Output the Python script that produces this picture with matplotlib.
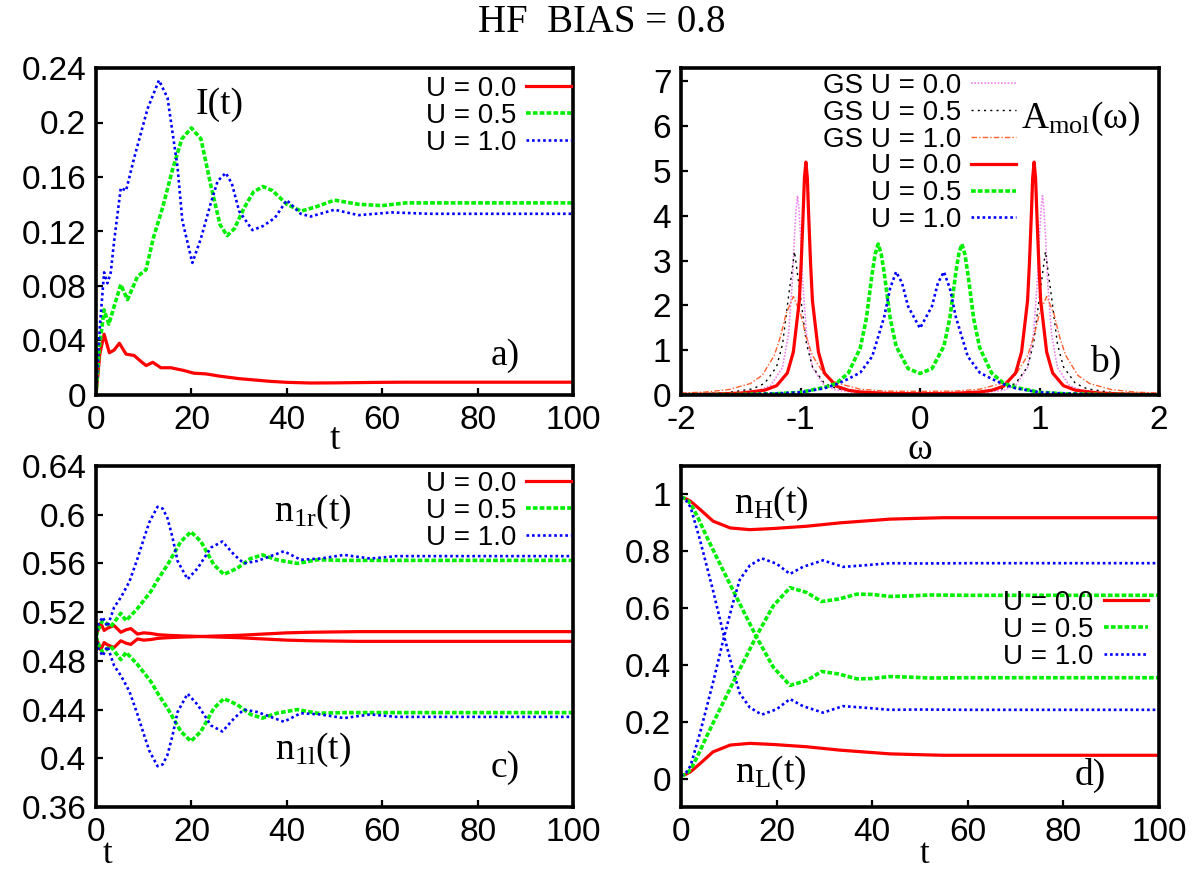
import matplotlib
matplotlib.use('Agg')
import matplotlib.pyplot as plt

# ---------------- data ----------------
# a) current I(t)
t_a_u00 = [0, 0.8, 1.7, 2.8, 3.8, 4.9, 6.3, 8.0, 9.3, 10.5, 11.9, 13.6, 15.7, 18.4, 20.5, 23, 26, 30,
           36.6, 40, 45, 50, 55, 60, 65, 70, 80, 90, 100]
I_u00 = [0, 0.03, 0.0446, 0.031, 0.033, 0.038, 0.030, 0.029, 0.025, 0.0216, 0.024, 0.020, 0.020, 0.018,
         0.016, 0.0155, 0.0138, 0.012, 0.010, 0.0093, 0.0088, 0.0089, 0.0091, 0.0093, 0.0094, 0.0094,
         0.0094, 0.0094, 0.0094]
t_a_u05 = [0, 0.7, 1.7, 2.7, 3.8, 5.2, 6.6, 8.7, 10.5, 12, 14, 16, 18, 20, 22, 24, 26, 27.5, 29, 31, 33,
           35, 37, 40, 43, 46, 50, 55, 60, 65, 70, 80, 90, 100]
I_u05 = [0, 0.035, 0.0625, 0.052, 0.065, 0.081, 0.070, 0.087, 0.092, 0.115, 0.138, 0.165, 0.188, 0.196,
         0.188, 0.155, 0.125, 0.117, 0.122, 0.137, 0.149, 0.153, 0.150, 0.140, 0.135, 0.138, 0.143,
         0.140, 0.139, 0.141, 0.141, 0.141, 0.141, 0.141]
t_a_u10 = [0, 0.8, 1.7, 2.4, 3.1, 3.8, 5.2, 6.3, 8, 10.8, 13.2, 15, 17.1, 18.1, 20.2, 22, 24, 25.5, 27.2,
           28.5, 30, 32.8, 35, 37.5, 40, 42.9, 45, 50, 55, 62, 70, 80, 90, 100]
I_u10 = [0, 0.05, 0.090, 0.082, 0.090, 0.113, 0.152, 0.150, 0.174, 0.210, 0.231, 0.218, 0.167, 0.128,
         0.097, 0.115, 0.140, 0.157, 0.163, 0.155, 0.135, 0.121, 0.124, 0.130, 0.143, 0.133, 0.131,
         0.136, 0.132, 0.134, 0.133, 0.133, 0.133, 0.133]

# b) spectral function A_mol(w)
w_gs00 = [-2, -1.7, -1.5, -1.35, -1.25, -1.15, -1.1, -1.07, -1.05, -1.037, -1.025, -1.013, -1.0, -0.98,
          -0.95, -0.9, -0.8, -0.7, -0.5, 0, 0.5, 0.7, 0.8, 0.9, 0.95, 0.98, 1.0, 1.013, 1.025, 1.037,
          1.05, 1.07, 1.1, 1.15, 1.25, 1.35, 1.5, 1.7, 2]
A_gs00 = [0.012, 0.024, 0.049, 0.103, 0.21, 0.615, 1.37, 2.46, 3.56, 4.15, 4.45, 4.15, 3.56, 2.46, 1.37,
          0.615, 0.21, 0.107, 0.045, 0.021, 0.045, 0.107, 0.21, 0.615, 1.37, 2.46, 3.56, 4.15, 4.45,
          4.15, 3.56, 2.46, 1.37, 0.615, 0.21, 0.103, 0.049, 0.024, 0.012]
w_gs05 = [-2, -1.8, -1.6, -1.4, -1.3, -1.2, -1.15, -1.1, -1.05, -1.0, -0.95, -0.9, -0.8, -0.7, -0.5, 0,
          0.5, 0.7, 0.8, 0.9, 0.95, 1.0, 1.05, 1.1, 1.15, 1.2, 1.3, 1.4, 1.6, 1.8, 2]
A_gs05 = [0.019, 0.031, 0.057, 0.137, 0.26, 0.63, 1.14, 2.2, 3.2, 2.2, 1.14, 0.63, 0.26, 0.145, 0.065,
          0.032, 0.065, 0.145, 0.26, 0.63, 1.14, 2.2, 3.2, 2.2, 1.14, 0.63, 0.26, 0.137, 0.057, 0.031,
          0.019]
w_gs10 = [-2, -1.8, -1.6, -1.42, -1.32, -1.22, -1.17, -1.12, -1.06, -1.0, -0.95, -0.9, -0.8, -0.7, -0.5,
          -0.3, 0, 0.3, 0.5, 0.7, 0.8, 0.9, 0.95, 1.0, 1.06, 1.12, 1.17, 1.22, 1.32, 1.42, 1.6, 1.8, 2]
A_gs10 = [0.042, 0.066, 0.121, 0.255, 0.44, 0.88, 1.28, 1.82, 2.2, 1.82, 1.28, 0.88, 0.45, 0.27, 0.13,
          0.088, 0.08, 0.088, 0.13, 0.27, 0.45, 0.88, 1.28, 1.82, 2.2, 1.82, 1.28, 0.88, 0.44, 0.255,
          0.121, 0.066, 0.042]
w_u00 = [-2, -1.7, -1.5, -1.3, -1.2, -1.11, -1.06, -1.01, -0.995, -0.98, -0.967, -0.955, -0.943, -0.93,
         -0.915, -0.9, -0.85, -0.8, -0.7, -0.6, -0.5, -0.3, 0, 0.3, 0.5, 0.6, 0.7, 0.8, 0.85, 0.9, 0.915,
         0.93, 0.943, 0.955, 0.967, 0.98, 0.995, 1.01, 1.06, 1.11, 1.2, 1.3, 1.5, 1.7, 2]
A_u00 = [0.012, 0.023, 0.043, 0.107, 0.208, 0.49, 0.96, 2.1, 2.9, 3.9, 4.85, 5.2, 4.85, 3.9, 2.9, 2.1,
         0.96, 0.49, 0.197, 0.106, 0.068, 0.038, 0.028, 0.038, 0.068, 0.106, 0.197, 0.49, 0.96, 2.1,
         2.9, 3.9, 4.85, 5.2, 4.85, 3.9, 2.9, 2.1, 0.96, 0.49, 0.208, 0.107, 0.043, 0.023, 0.012]
w_u05 = [-2, -1.5, -1.2, -1.0, -0.8, -0.7, -0.6, -0.5, -0.45, -0.4, -0.375, -0.35, -0.325, -0.3, -0.25,
         -0.2, -0.1, 0, 0.1, 0.2, 0.25, 0.3, 0.325, 0.35, 0.375, 0.4, 0.45, 0.5, 0.6, 0.7, 0.8, 1.0, 1.2,
         1.5, 2]
A_u05 = [0.004, 0.012, 0.03, 0.06, 0.17, 0.26, 0.49, 1.05, 1.69, 2.72, 3.15, 3.37, 3.15, 2.74, 1.72,
         1.09, 0.59, 0.48, 0.59, 1.09, 1.72, 2.74, 3.15, 3.37, 3.15, 2.72, 1.69, 1.05, 0.49, 0.26, 0.17,
         0.06, 0.03, 0.012, 0.004]
w_u10 = [-2, -1.5, -1.2, -1.0, -0.8, -0.7, -0.6, -0.5, -0.4, -0.3, -0.25, -0.2, -0.15, -0.1, 0, 0.1,
         0.15, 0.2, 0.25, 0.3, 0.4, 0.5, 0.6, 0.7, 0.8, 1.0, 1.2, 1.5, 2]
A_u10 = [0.005, 0.015, 0.035, 0.06, 0.15, 0.24, 0.36, 0.50, 0.86, 1.74, 2.38, 2.75, 2.5, 1.98, 1.49,
         1.98, 2.5, 2.75, 2.38, 1.74, 0.86, 0.50, 0.36, 0.24, 0.15, 0.06, 0.035, 0.015, 0.005]

# c) site occupations n_1r(t), n_1l(t)
t_c_u00 = [0, 0.5, 1.0, 1.7, 2.5, 3.8, 5.2, 6.3, 7.3, 8.7, 10, 11.5, 13, 15, 18, 22, 26, 30, 35, 40, 45,
           55, 70, 85, 100]
n1r_u00 = [0.5, 0.506, 0.511, 0.505, 0.507, 0.509, 0.5035, 0.5055, 0.5065, 0.502, 0.503, 0.5025, 0.5015,
           0.501, 0.5005, 0.5, 0.5005, 0.501, 0.502, 0.503, 0.5035, 0.504, 0.504, 0.504, 0.504]
n1l_u00 = [0.5, 0.494, 0.489, 0.495, 0.493, 0.491, 0.4965, 0.4945, 0.4935, 0.498, 0.497, 0.4975, 0.4985,
           0.499, 0.4995, 0.5, 0.4995, 0.499, 0.498, 0.497, 0.4965, 0.496, 0.496, 0.496, 0.496]
t_c_u05 = [0, 0.7, 1.4, 3.1, 5.2, 6.3, 8.7, 11.5, 13, 15, 17.8, 19.9, 22, 24.7, 26.8, 29.6, 32.4, 34.9,
           37.9, 42.2, 46.4, 52, 60, 70, 80, 90, 100]
n1r_u05 = [0.5, 0.508, 0.513, 0.508, 0.519, 0.513, 0.523, 0.537, 0.547, 0.559, 0.578, 0.586, 0.578,
           0.559, 0.551, 0.556, 0.564, 0.567, 0.563, 0.560, 0.563, 0.5625, 0.5625, 0.5625, 0.5625,
           0.5625, 0.5625]
n1l_u05 = [0.5, 0.492, 0.487, 0.492, 0.481, 0.487, 0.477, 0.463, 0.453, 0.441, 0.422, 0.414, 0.422,
           0.441, 0.449, 0.444, 0.436, 0.433, 0.437, 0.440, 0.437, 0.4375, 0.4375, 0.4375, 0.4375,
           0.4375, 0.4375]
t_c_u10 = [0, 0.5, 1.4, 2.4, 3.8, 5.2, 7, 8.7, 10, 11.2, 12.9, 14, 15, 16, 17.1, 19.2, 21.3, 24.1, 26.5,
           29, 31, 33.8, 36.6, 39.4, 42.9, 47, 52, 57.5, 63, 70, 80, 90, 100]
n1r_u10 = [0.5, 0.51, 0.516, 0.508, 0.524, 0.532, 0.545, 0.564, 0.58, 0.594, 0.6065, 0.605, 0.597,
           0.582, 0.562, 0.547, 0.556, 0.573, 0.578, 0.567, 0.560, 0.562, 0.566, 0.570, 0.563, 0.564,
           0.567, 0.564, 0.566, 0.566, 0.566, 0.566, 0.566]
n1l_u10 = [0.5, 0.49, 0.484, 0.492, 0.476, 0.468, 0.455, 0.436, 0.42, 0.406, 0.3935, 0.395, 0.403,
           0.418, 0.438, 0.453, 0.444, 0.427, 0.422, 0.433, 0.440, 0.438, 0.434, 0.430, 0.437, 0.436,
           0.433, 0.436, 0.434, 0.434, 0.434, 0.434, 0.434]

# d) n_H(t), n_L(t)
t_d_u00 = [0, 1, 2, 4, 6.7, 10.3, 14.4, 19.3, 26.3, 33.3, 43.7, 50, 55, 60, 70, 80, 90, 100]
nH_u00 = [0.99, 0.985, 0.976, 0.947, 0.906, 0.882, 0.876, 0.880, 0.888, 0.900, 0.913, 0.916, 0.918,
          0.918, 0.918, 0.918, 0.918, 0.918]
nL_u00 = [0.01, 0.015, 0.024, 0.053, 0.094, 0.118, 0.124, 0.120, 0.112, 0.100, 0.087, 0.084, 0.082,
          0.082, 0.082, 0.082, 0.082, 0.082]
t_d_u05 = [0, 1, 2, 3.5, 5.4, 8.8, 12.3, 15.8, 19.3, 22.8, 26.3, 29.4, 33, 36.8, 40, 43.7, 48, 52, 60,
           70, 80, 90, 100]
nH_u05 = [0.99, 0.985, 0.968, 0.92, 0.85, 0.733, 0.615, 0.498, 0.392, 0.328, 0.345, 0.377, 0.368, 0.351,
          0.352, 0.359, 0.357, 0.354, 0.355, 0.355, 0.355, 0.355, 0.355]
nL_u05 = [0.01, 0.015, 0.032, 0.08, 0.15, 0.267, 0.385, 0.502, 0.608, 0.672, 0.655, 0.623, 0.632, 0.649,
          0.648, 0.641, 0.643, 0.646, 0.645, 0.645, 0.645, 0.645, 0.645]
t_d_u10 = [0, 1, 2, 4, 6.7, 8.8, 10.9, 12.3, 14.4, 16.9, 20, 22.8, 25.5, 29.7, 33.9, 38, 43.7, 50, 60,
           70, 80, 90, 100]
nH_u10 = [0.99, 0.98, 0.955, 0.838, 0.662, 0.515, 0.38, 0.30, 0.25, 0.225, 0.244, 0.28, 0.255, 0.232,
          0.255, 0.25, 0.242, 0.243, 0.242, 0.242, 0.242, 0.242, 0.242]
nL_u10 = [0.01, 0.02, 0.045, 0.162, 0.338, 0.485, 0.62, 0.70, 0.75, 0.775, 0.756, 0.72, 0.745, 0.768,
          0.745, 0.75, 0.758, 0.757, 0.758, 0.758, 0.758, 0.758, 0.758]

# ticks
t_ticks = [0, 20, 40, 60, 80, 100]
w_ticks = [-2, -1, 0, 1, 2]
a_yticks = [0, 0.04, 0.08, 0.12, 0.16, 0.2, 0.24]
a_ylabels = ['0', '0.04', '0.08', '0.12', '0.16', '0.2', '0.24']
b_yticks = [0, 1, 2, 3, 4, 5, 6, 7]
c_yticks = [0.36, 0.4, 0.44, 0.48, 0.52, 0.56, 0.6, 0.64]
c_ylabels = ['0.36', '0.4', '0.44', '0.48', '0.52', '0.56', '0.6', '0.64']
d_yticks = [0, 0.2, 0.4, 0.6, 0.8, 1]
d_ylabels = ['0', '0.2', '0.4', '0.6', '0.8', '1']

# ---------------- style ----------------
plt.rcParams['font.family'] = ['Liberation Sans', 'DejaVu Sans']
plt.rcParams['mathtext.fontset'] = 'custom'
plt.rcParams['mathtext.rm'] = 'Liberation Serif'
plt.rcParams['mathtext.it'] = 'Liberation Serif:italic'
SERIF = ['Liberation Serif', 'DejaVu Serif']

sty_u00 = dict(color='#ff0000', lw=2.3, ls='-')
sty_u05 = dict(color='#00ee00', lw=2.6, dashes=(1.3, 0.6))
sty_u10 = dict(color='#0000ff', lw=1.9, dashes=(1.0, 1.1))
sty_gs00 = dict(color='#ee82ee', lw=1.2, dashes=(1.0, 1.0))
sty_gs05 = dict(color='#000000', lw=1.0, dashes=(1.5, 3.0))
sty_gs10 = dict(color='#ff6030', lw=1.0, dashes=(4, 1.5, 1, 1.5))

fig = plt.figure(figsize=(12.03, 8.73), dpi=100)
W, H = 1203.0, 873.0


def make_ax(x0, x1, y0, y1):
    return fig.add_axes([x0 / W, 1 - y1 / H, (x1 - x0) / W, (y1 - y0) / H])


ax_a = make_ax(96, 573, 68, 395)
ax_b = make_ax(681, 1159, 68, 395)
ax_c = make_ax(96, 573, 466, 807)
ax_d = make_ax(681, 1159, 466, 807)

for ax in (ax_a, ax_b, ax_c, ax_d):
    for s in ax.spines.values():
        s.set_linewidth(2.6)
    ax.tick_params(direction='in', length=5, width=1.6, labelsize=24, pad=7,
                   top=False, right=False)

leg_kw = dict(frameon=False, markerfirst=False, fontsize=20, handlelength=1.6,
              handletextpad=0.35, labelspacing=0.03, borderaxespad=0, borderpad=0)

# a)
ax_a.plot(t_a_u00, I_u00, label='U = 0.0', **sty_u00)
ax_a.plot(t_a_u05, I_u05, label='U = 0.5', **sty_u05)
ax_a.plot(t_a_u10, I_u10, label='U = 1.0', **sty_u10)
ax_a.set_xlim(0, 100)
ax_a.set_ylim(0, 0.24)
ax_a.set_xticks(t_ticks)
ax_a.set_yticks(a_yticks, a_ylabels)
ax_a.legend(loc='upper right', bbox_to_anchor=(0.995, 0.975), **leg_kw)
ax_a.text(0.26, 0.887, 'I(t)', transform=ax_a.transAxes, fontsize=27, family=SERIF,
          ha='center', va='center')
ax_a.text(0.857, 0.12, 'a)', transform=ax_a.transAxes, fontsize=27, family=SERIF,
          ha='center', va='center')
ax_a.set_xlabel('t', fontsize=27, family=SERIF, va='center')
ax_a.xaxis.set_label_coords(0.5, -0.138)

# b)
ax_b.plot(w_gs00, A_gs00, label='GS U = 0.0', **sty_gs00)
ax_b.plot(w_gs05, A_gs05, label='GS U = 0.5', **sty_gs05)
ax_b.plot(w_gs10, A_gs10, label='GS U = 1.0', **sty_gs10)
ax_b.plot(w_u00, A_u00, label='U = 0.0', **sty_u00)
ax_b.plot(w_u05, A_u05, label='U = 0.5', **sty_u05)
ax_b.plot(w_u10, A_u10, label='U = 1.0', **sty_u10)
ax_b.set_xlim(-2, 2)
ax_b.set_ylim(0, 7.3)
ax_b.set_xticks(w_ticks, ['-2', '-1', '0', '1', '2'])
ax_b.set_yticks(b_yticks)
ax_b.legend(loc='upper right', bbox_to_anchor=(0.70, 0.985), **leg_kw)
ax_b.text(0.835, 0.845, r'A$_{\mathrm{mol}}$(ω)', transform=ax_b.transAxes, fontsize=27,
          family=SERIF, ha='center', va='center')
ax_b.text(0.889, 0.10, 'b)', transform=ax_b.transAxes, fontsize=27, family=SERIF,
          ha='center', va='center')
ax_b.set_xlabel('ω', fontsize=27, family=SERIF, va='center')
ax_b.xaxis.set_label_coords(0.5, -0.168)

# c)
ax_c.plot(t_c_u00, n1r_u00, label='U = 0.0', **sty_u00)
ax_c.plot(t_c_u05, n1r_u05, label='U = 0.5', **sty_u05)
ax_c.plot(t_c_u10, n1r_u10, label='U = 1.0', **sty_u10)
ax_c.plot(t_c_u00, n1l_u00, **sty_u00)
ax_c.plot(t_c_u05, n1l_u05, **sty_u05)
ax_c.plot(t_c_u10, n1l_u10, **sty_u10)
ax_c.set_xlim(0, 100)
ax_c.set_ylim(0.36, 0.64)
ax_c.set_xticks(t_ticks)
ax_c.set_yticks(c_yticks, c_ylabels)
ax_c.legend(loc='upper right', bbox_to_anchor=(0.995, 0.985), **leg_kw)
ax_c.text(0.455, 0.865, r'n$_{\mathrm{1r}}$(t)', transform=ax_c.transAxes, fontsize=27,
          family=SERIF, ha='center', va='center')
ax_c.text(0.455, 0.167, r'n$_{\mathrm{1l}}$(t)', transform=ax_c.transAxes, fontsize=27,
          family=SERIF, ha='center', va='center')
ax_c.text(0.857, 0.114, 'c)', transform=ax_c.transAxes, fontsize=27, family=SERIF,
          ha='center', va='center')
ax_c.set_xlabel('t', fontsize=25, family=SERIF, va='center')
ax_c.xaxis.set_label_coords(0.025, -0.14)

# d)
ax_d.plot(t_d_u00, nH_u00, label='U = 0.0', **sty_u00)
ax_d.plot(t_d_u05, nH_u05, label='U = 0.5', **sty_u05)
ax_d.plot(t_d_u10, nH_u10, label='U = 1.0', **sty_u10)
ax_d.plot(t_d_u00, nL_u00, **sty_u00)
ax_d.plot(t_d_u05, nL_u05, **sty_u05)
ax_d.plot(t_d_u10, nL_u10, **sty_u10)
ax_d.set_xlim(0, 100)
ax_d.set_ylim(-0.1, 1.1)
ax_d.set_xticks(t_ticks)
ax_d.set_yticks(d_yticks, d_ylabels)
ax_d.legend(loc='center right', bbox_to_anchor=(0.977, 0.52), **leg_kw)
ax_d.text(0.188, 0.89, r'n$_{\mathrm{H}}$(t)', transform=ax_d.transAxes, fontsize=27,
          family=SERIF, ha='center', va='center')
ax_d.text(0.188, 0.10, r'n$_{\mathrm{L}}$(t)', transform=ax_d.transAxes, fontsize=27,
          family=SERIF, ha='center', va='center')
ax_d.text(0.856, 0.094, 'd)', transform=ax_d.transAxes, fontsize=27, family=SERIF,
          ha='center', va='center')
ax_d.set_xlabel('t', fontsize=25, family=SERIF, va='center')
ax_d.xaxis.set_label_coords(0.51, -0.14)

fig.text(0.5, 1 - 22 / H, 'HF  BIAS = 0.8', fontsize=28, family=SERIF, ha='center', va='center')

fig.savefig('out.png', dpi=100)
